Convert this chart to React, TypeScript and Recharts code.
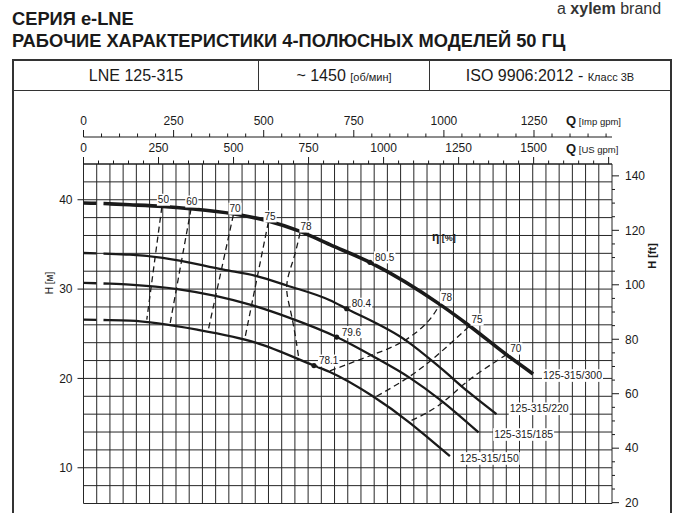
import React from "react";
import { ComposedChart, Line, XAxis, YAxis, CartesianGrid, ReferenceDot } from "recharts";

const FONT = "'Liberation Sans', Arial, Helvetica, sans-serif";
const INK = "#1a1a1a";

// flow in m³/h, head in m
const Q_DOMAIN = [0, 400];
const H_DOMAIN = [6, 44];
const US_GPM = 0.2271247; // m³/h per US gpm
const IMP_GPM = 0.2727654; // m³/h per Imp gpm
const FT = 3.28084;

const range = (a: number, b: number, s: number) => {
  const out: number[] = [];
  for (let v = a; v <= b + 1e-9; v += s) out.push(+v.toFixed(3));
  return out;
};

const qGrid = range(0, 400, 10);
const hGrid = range(6, 44, 2);
const hTicks = [10, 20, 30, 40];
const ftTicks = range(20, 140, 5);
const ftLabels = [20, 40, 60, 80, 100, 120, 140];
const usTicks = range(0, 1750, 50);
const usLabels = [0, 250, 500, 750, 1000, 1250, 1500];
const impTicks = range(0, 1450, 50);
const impLabels = [0, 250, 500, 750, 1000, 1250];

// H-Q curves (shut-off part dashed)
const shut300 = [{ q: 0, h: 39.63 }, { q: 10, h: 39.6 }, { q: 20, h: 39.54 }];
const curve300 = [
  { q: 20, h: 39.54 }, { q: 35, h: 39.44 }, { q: 60, h: 39.25 }, { q: 81, h: 38.99 },
  { q: 113, h: 38.43 }, { q: 139, h: 37.65 }, { q: 164, h: 36.46 }, { q: 186.5, h: 34.97 },
  { q: 216.8, h: 32.99 }, { q: 270, h: 28.26 }, { q: 292, h: 25.9 }, { q: 320, h: 22.67 },
  { q: 340.3, h: 20.5 },
];
const shut220 = [{ q: 0, h: 34.04 }, { q: 10, h: 34.0 }, { q: 20, h: 33.95 }];
const curve220 = [
  { q: 20, h: 33.95 }, { q: 35, h: 33.85 }, { q: 60, h: 33.5 }, { q: 106, h: 32.17 },
  { q: 131, h: 31.45 }, { q: 154, h: 30.4 }, { q: 186.5, h: 28.75 }, { q: 199.2, h: 27.8 },
  { q: 244.5, h: 24.2 }, { q: 270, h: 21.2 }, { q: 292, h: 18.4 }, { q: 312.6, h: 16.0 },
];
const shut185 = [{ q: 0, h: 30.69 }, { q: 10, h: 30.65 }, { q: 20, h: 30.6 }];
const curve185 = [
  { q: 20, h: 30.6 }, { q: 35, h: 30.5 }, { q: 71, h: 30.0 }, { q: 126, h: 28.26 },
  { q: 156, h: 26.77 }, { q: 191.6, h: 24.63 }, { q: 219, h: 22.48 }, { q: 247, h: 20.06 },
  { q: 270, h: 17.6 }, { q: 299, h: 13.95 },
];
const shut150 = [{ q: 0, h: 26.58 }, { q: 10, h: 26.56 }, { q: 20, h: 26.52 }];
const curve150 = [
  { q: 20, h: 26.52 }, { q: 35, h: 26.47 }, { q: 86, h: 25.46 }, { q: 131, h: 23.98 },
  { q: 174.4, h: 21.44 }, { q: 186.5, h: 20.72 }, { q: 219, h: 18.0 }, { q: 247, h: 15.03 },
  { q: 262, h: 13.2 }, { q: 277.3, h: 11.3 },
];

// iso-efficiency lines
const eff50 = [{ q: 59.3, h: 39.2 }, { q: 47.9, h: 26.58 }];
const eff60 = [{ q: 81.4, h: 39.0 }, { q: 65.6, h: 26.2 }];
const eff70 = [{ q: 113.4, h: 38.3 }, { q: 94.5, h: 25.46 }];
const eff75 = [{ q: 139.9, h: 37.5 }, { q: 122.3, h: 24.6 }];
const eff78a = [
  { q: 163.9, h: 36.3 }, { q: 158.8, h: 33.3 }, { q: 153.8, h: 30.3 },
  { q: 157.6, h: 26.95 }, { q: 163.1, h: 22.1 },
];
const eff78b = [
  { q: 186.5, h: 20.85 }, { q: 219.3, h: 22.67 }, { q: 242, h: 24.16 },
  { q: 259.7, h: 26.21 }, { q: 269.7, h: 28.3 },
];
const eff75b = [{ q: 221.8, h: 18.0 }, { q: 247, h: 20.24 }, { q: 269.7, h: 22.86 }, { q: 292.4, h: 25.91 }];
const eff70b = [{ q: 248.3, h: 15.3 }, { q: 269.7, h: 17.08 }, { q: 292.4, h: 19.87 }, { q: 320.2, h: 22.67 }];

const effTags = [
  { q: 60.5, h: 40.0, t: "50" }, { q: 82, h: 39.8, t: "60" }, { q: 114.7, h: 39.0, t: "70" },
  { q: 141.2, h: 38.13, t: "75" }, { q: 168.4, h: 37.0, t: "78" }, { q: 274.8, h: 29.08, t: "78" },
  { q: 297.9, h: 26.58, t: "75" }, { q: 327.2, h: 23.34, t: "70" },
];
const bepTags = [
  { q: 216.8, h: 32.99, t: "80.5" }, { q: 199.2, h: 27.8, t: "80.4" },
  { q: 191.6, h: 24.63, t: "79.6" }, { q: 174.4, h: 21.44, t: "78.1" },
];
const curveTags = [
  { q: 347.8, h: 20.32, t: "125-315/300" }, { q: 322.6, h: 16.6, t: "125-315/220" },
  { q: 310.8, h: 13.72, t: "125-315/185" }, { q: 284.8, h: 11.04, t: "125-315/150" },
];

// extents of the two gpm scales (gives the top axes something to bind to)
const gpmRows = [
  { us: usTicks[0], imp: impTicks[0] },
  { us: usTicks[usTicks.length - 1], imp: impTicks[impTicks.length - 1] },
];

const textW = (s: string, f: number) =>
  [...s].reduce((w, c) => w + (".:/".includes(c) ? 0.278 : c === "-" ? 0.333 : 0.556), 0) * f;

function Tag({ cx, cy, text, size = 10, anchor = "middle", dx = 0, dy = 0, dot = false }: any) {
  const w = textW(text, size);
  const x = cx + dx;
  const left = anchor === "middle" ? x - w / 2 : x;
  return (
    <g>
      {dot && <circle cx={cx} cy={cy} r={2.6} fill={INK} />}
      <rect x={left - 1} y={cy + dy - size * 0.6} width={w + 2} height={size * 1.2} fill="#fff" />
      <text x={x} y={cy + dy} dy={size * 0.35} textAnchor={anchor} fontSize={size} fontFamily={FONT} fill={INK}>
        {text}
      </text>
    </g>
  );
}

function GpmTick({ x, y, payload, labels }: any) {
  const v = payload.value;
  const major = v % 250 === 0;
  return (
    <g>
      <line x1={x} y1={y} x2={x} y2={y - (major ? 7 : 3.5)} stroke={INK} strokeWidth={1} />
      {labels.includes(v) && (
        <text x={x} y={y - 12} textAnchor="middle" fontSize={12} fontFamily={FONT} fill={INK}>{v}</text>
      )}
    </g>
  );
}

function FtTick({ x, y, payload }: any) {
  const v = payload.value;
  const major = ftLabels.includes(v);
  return (
    <g>
      <line x1={x} y1={y} x2={x + (major ? 7 : 3)} y2={y} stroke={INK} strokeWidth={1} />
      {major && (
        <text x={x + 13} y={y} dy={4.3} fontSize={12} fontFamily={FONT} fill={INK}>{v}</text>
      )}
    </g>
  );
}

const series = [
  { data: shut300, w: 3.6, dash: "13 7" },
  { data: curve300, w: 3.6 },
  { data: shut220, w: 2.3, dash: "13 7" },
  { data: curve220, w: 2.3 },
  { data: shut185, w: 2.3, dash: "13 7" },
  { data: curve185, w: 2.3 },
  { data: shut150, w: 2.3, dash: "13 7" },
  { data: curve150, w: 2.3 },
  { data: eff50, w: 1.3, dash: "6 4", lin: true },
  { data: eff60, w: 1.3, dash: "6 4", lin: true },
  { data: eff70, w: 1.3, dash: "6 4", lin: true },
  { data: eff75, w: 1.3, dash: "6 4", lin: true },
  { data: eff78a, w: 1.3, dash: "6 4", nat: true },
  { data: eff78b, w: 1.3, dash: "6 4", nat: true },
  { data: eff75b, w: 1.3, dash: "6 4", nat: true },
  { data: eff70b, w: 1.3, dash: "6 4", nat: true },
];

export default function App() {
  return (
    <div style={{ position: "absolute", left: 0, top: 0, width: 676, height: 513, overflow: "hidden", background: "#fff", fontFamily: FONT, color: INK }}>
      <div style={{ position: "absolute", left: 557, top: 0, fontSize: 16, lineHeight: "18px", color: "#333", whiteSpace: "nowrap" }}>
        a <b>xylem</b> brand
      </div>
      <div style={{ position: "absolute", left: 12, top: 9.5, fontSize: 18.3, lineHeight: "18px", fontWeight: 700, whiteSpace: "nowrap" }}>
        СЕРИЯ e-LNE
      </div>
      <div style={{ position: "absolute", left: 12, top: 31.5, fontSize: 18.3, lineHeight: "18px", fontWeight: 700, whiteSpace: "nowrap" }}>
        РАБОЧИЕ ХАРАКТЕРИСТИКИ 4-ПОЛЮСНЫХ МОДЕЛЕЙ 50 ГЦ
      </div>
      <div style={{ position: "absolute", left: 12, top: 59, width: 660, height: 480, border: "2px solid #333", boxSizing: "border-box" }}>
        <div style={{ display: "flex", height: 29, borderBottom: "1.5px solid #333", fontSize: 16, alignItems: "center" }}>
          <div style={{ width: 244, textAlign: "center", borderRight: "1.5px solid #333", height: "100%", lineHeight: "29px" }}>LNE 125-315</div>
          <div style={{ width: 170, textAlign: "center", borderRight: "1.5px solid #333", height: "100%", lineHeight: "29px" }}>
            ~ 1450 <span style={{ fontSize: 11 }}>[об/мин]</span>
          </div>
          <div style={{ flex: 1, textAlign: "center", height: "100%", lineHeight: "29px" }}>
            ISO 9906:2012 - <span style={{ fontSize: 11 }}>Класс 3В</span>
          </div>
        </div>
      </div>

      <div style={{ position: "absolute", left: 0, top: 0 }}>
        <ComposedChart width={676} height={513} data={gpmRows} margin={{ top: 110, right: 0, bottom: 9.5, left: 0 }}>
          <XAxis xAxisId="q" dataKey="q" type="number" domain={Q_DOMAIN} ticks={qGrid} interval={0} allowDataOverflow hide />
          <XAxis xAxisId="a-us" dataKey="us" orientation="top" type="number" domain={[0, 400 / US_GPM]} ticks={usTicks}
            interval={0} allowDataOverflow height={27} tickSize={0} tickMargin={0} tick={<GpmTick labels={usLabels} />}
            tickLine={false} axisLine={{ stroke: INK }} />
          <XAxis xAxisId="b-imp" dataKey="imp" orientation="top" type="number" domain={[0, 400 / IMP_GPM]} ticks={impTicks}
            interval={0} allowDataOverflow height={27} tickSize={0} tickMargin={0} tick={<GpmTick labels={impLabels} />}
            tickLine={false} axisLine={{ stroke: INK }} />
          <YAxis yAxisId="m" type="number" domain={H_DOMAIN} ticks={hTicks} interval={0} allowDataOverflow
            width={83.5} tickSize={6} tickMargin={5} axisLine={false} tickLine={{ stroke: INK }}
            tick={{ fontSize: 12, fill: INK, fontFamily: FONT }} />
          <YAxis yAxisId="grid" type="number" domain={H_DOMAIN} ticks={hGrid} interval={0} allowDataOverflow hide width={0} />
          <YAxis yAxisId="ft" orientation="right" type="number" domain={[6 * FT, 44 * FT]} ticks={ftTicks}
            interval={0} allowDataOverflow width={64} tickSize={0} tickMargin={0} tick={<FtTick />}
            tickLine={false} axisLine={false} />
          <CartesianGrid xAxisId="q" yAxisId="grid" stroke="#262626" strokeWidth={1} />
          {series.map((s, i) => (
            <Line key={i} xAxisId="q" yAxisId="m" data={s.data} dataKey="h"
              type={s.lin ? "linear" : s.nat ? "natural" : "monotone"}
              stroke={INK} strokeWidth={s.w} strokeDasharray={s.dash} dot={false}
              activeDot={false} isAnimationActive={false} />
          ))}
          {effTags.map((t, i) => (
            <ReferenceDot key={"e" + i} xAxisId="q" yAxisId="m" x={t.q} y={t.h} r={0}
              shape={(p: any) => <Tag cx={p.cx} cy={p.cy} text={t.t} />} />
          ))}
          {bepTags.map((t, i) => (
            <ReferenceDot key={"b" + i} xAxisId="q" yAxisId="m" x={t.q} y={t.h} r={0}
              shape={(p: any) => <Tag cx={p.cx} cy={p.cy} text={t.t} anchor="start" dx={5} dy={-5} dot />} />
          ))}
          {curveTags.map((t, i) => (
            <ReferenceDot key={"c" + i} xAxisId="q" yAxisId="m" x={t.q} y={t.h} r={0}
              shape={(p: any) => <Tag cx={p.cx} cy={p.cy} text={t.t} size={10.5} anchor="start" />} />
          ))}
          <ReferenceDot xAxisId="q" yAxisId="m" x={263.7} y={35.86} r={0}
            shape={(p: any) => (
              <text x={p.cx} y={p.cy} dy={4} fontFamily={FONT} fill={INK} fontWeight={700}>
                <tspan fontSize={12}>η</tspan>
                <tspan fontSize={9}> [%]</tspan>
              </text>
            )} />
        </ComposedChart>
      </div>

      <svg width={676} height={513} style={{ position: "absolute", left: 0, top: 0, pointerEvents: "none" }}>
        <text x={566} y={125} fontFamily={FONT} fill={INK} fontWeight={700}>
          <tspan fontSize={13}>Q</tspan>
          <tspan fontSize={9.5} fontWeight={400}> [Imp gpm]</tspan>
        </text>
        <text x={566} y={153} fontFamily={FONT} fill={INK} fontWeight={700}>
          <tspan fontSize={13}>Q</tspan>
          <tspan fontSize={9.5} fontWeight={400}> [US gpm]</tspan>
        </text>
        <text transform="translate(53,283) rotate(-90)" textAnchor="middle" fontSize={10} fontFamily={FONT} fill={INK}>
          H [м]
        </text>
        <text transform="translate(656,256) rotate(-90)" textAnchor="middle" fontSize={11} fontWeight={700} fontFamily={FONT} fill={INK}>
          H [ft]
        </text>
      </svg>
    </div>
  );
}
